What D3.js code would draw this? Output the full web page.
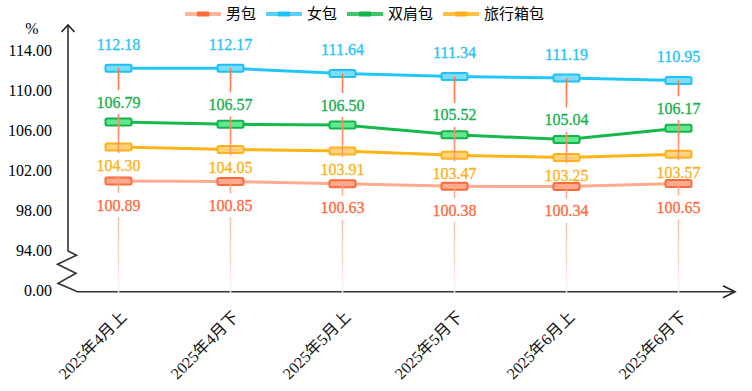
<!DOCTYPE html>
<html><head><meta charset="utf-8">
<script src="https://cdn.jsdelivr.net/npm/d3@7/dist/d3.min.js"></script>
<style>body{margin:0;background:#fff}svg{display:block}
.serif{font-family:'Liberation Serif','Tinos','Noto Serif','FreeSerif','DejaVu Serif','Times New Roman',serif}
.xl{font-family:'Liberation Serif','Tinos','Noto Serif','FreeSerif','DejaVu Serif','Noto Sans CJK SC',serif}
.cjk{font-family:'Noto Sans CJK SC',sans-serif}
</style>
</head><body><svg id="c" width="752" height="391"></svg>
<script>
const categories = ["2025年4月上","2025年4月下","2025年5月上","2025年5月下","2025年6月上","2025年6月下"];
const seriesNames = ["男包","女包","双肩包","旅行箱包"];
const menBag = [100.89,100.85,100.63,100.38,100.34,100.65];
const womenBag = [112.18,112.17,111.64,111.34,111.19,110.95];
const backpack = [106.79,106.57,106.50,105.52,105.04,106.17];
const luggage = [104.30,104.05,103.91,103.47,103.25,103.57];
const yTickValues = [0,94,98,102,106,110,114];
const yUnit = "%";

const styles = [
  {name:seriesNames[0], data:menBag, line:"#ffab90", fill:"#ffab8f", stroke:"#ff6a3b", label:"#fc6a3a", off:24, legLine:"#ffb59c"},
  {name:seriesNames[1], data:womenBag, line:"#22c6f6", fill:"#80dbf7", stroke:"#1ec3f6", label:"#22c3f4", off:-24, legLine:"#55d2f7"},
  {name:seriesNames[2], data:backpack, line:"#15b84b", fill:"#62e890", stroke:"#12b548", label:"#17ae4a", off:-20, legLine:"#3cc86a"},
  {name:seriesNames[3], data:luggage, line:"#fdb515", fill:"#ffd27c", stroke:"#ffb11a", label:"#fdb014", off:18, legLine:"#fec040"}
];

const svg = d3.select("#c");
const axisY = 291.7, axisX = 68;
const x = d3.scalePoint().domain(categories).range([118.5, 678.5]);
const y = d3.scaleLinear().domain([0,94,114]).range([290,250,50]);

const defs = svg.append("defs");
const topY = y(d3.max(womenBag));
const grad = defs.append("linearGradient").attr("id","vg").attr("gradientUnits","userSpaceOnUse")
  .attr("x1",0).attr("x2",0).attr("y1",topY).attr("y2",axisY);
grad.append("stop").attr("offset",0).attr("stop-color","#ff6f3c");
grad.append("stop").attr("offset",0.45).attr("stop-color","#ff9c7c");
grad.append("stop").attr("offset",0.75).attr("stop-color","#ffc9ba");
grad.append("stop").attr("offset",1).attr("stop-color","#fff4f0");

const yAxis = d3.axisLeft(y).tickValues(yTickValues).tickSize(0).tickPadding(0).tickFormat(d3.format(".2f"));
const ga = svg.append("g").attr("transform","translate(52,0)").call(yAxis);
ga.attr("font-family",null).attr("font-size",null);
ga.select(".domain").remove();
ga.selectAll("text").attr("class","serif").style("font-size","16px").attr("fill","#000");
svg.append("text").attr("class","serif").attr("x",32).attr("y",28).attr("dy","0.35em").attr("text-anchor","middle")
  .style("font-size","16px").text(yUnit);

const brk = y(94);
svg.append("path").attr("fill","none").attr("stroke","#333").attr("stroke-width",1.6)
  .attr("d",`M${axisX},${26} L${axisX},${brk+1} L${axisX+8.5},${brk+5.3} L${axisX-10.5},${brk+14.3} L${axisX+8},${brk+23.3} L${axisX-10},${brk+33.3} L${axisX+9.5},${axisY} L735,${axisY}`);
svg.append("path").attr("fill","none").attr("stroke","#222").attr("stroke-width",1.6)
  .attr("d",`M${axisX-6.5},${32} L${axisX},${25} L${axisX+6.5},${32}`);
svg.append("path").attr("fill","none").attr("stroke","#222").attr("stroke-width",1.6)
  .attr("d",`M723,${axisY-6} L735,${axisY} L723,${axisY+6}`);

svg.append("g").selectAll("text").data(categories).join("text")
  .attr("class","xl")
  .attr("transform",d=>`translate(${x(d)+5},${314}) rotate(-45)`)
  .attr("text-anchor","end").attr("dy","0.35em")
  .style("font-size","16px").attr("fill","#111")
  .text(d=>d);

const line = d3.line().x((d,i)=>x(categories[i])).y(d=>y(d));
const drawOrder = [0,3,2,1];
drawOrder.forEach(k=>{
  const s = styles[k];
  svg.append("path").datum(s.data).attr("fill","none").attr("stroke",s.line).attr("stroke-width",3).attr("d",line);
});
drawOrder.forEach(k=>{
  const s = styles[k];
  svg.append("g").selectAll("rect").data(s.data).join("rect")
    .attr("x",(d,i)=>x(categories[i])-13).attr("y",d=>y(d)-3.5).attr("width",26).attr("height",7)
    .attr("rx",1.5).attr("fill",s.fill).attr("stroke",s.stroke).attr("stroke-width",2);
});

categories.forEach((c,i)=>{
  const cx = x(c);
  const cuts = styles.map(s=>y(s.data[i])+s.off).sort((a,b)=>a-b);
  let start = y(womenBag[i]);
  const segs = [];
  cuts.forEach(cy=>{
    const a = cy-12, b = cy+12;
    if (a>start) segs.push([start,a]);
    start = Math.max(start,b);
  });
  segs.push([start,axisY+0.8]);
  segs.forEach(([a,b])=>{
    svg.append("line").attr("x1",cx).attr("x2",cx).attr("y1",a).attr("y2",b)
      .attr("stroke","url(#vg)").attr("stroke-width",1.6);
  });
});

styles.forEach(s=>{
  svg.append("g").selectAll("text").data(s.data).join("text")
    .attr("class","serif")
    .attr("x",(d,i)=>x(categories[i])).attr("y",d=>y(d)+s.off).attr("dy","0.35em")
    .attr("text-anchor","middle").style("font-size","16px")
    .attr("fill",s.label).attr("stroke",s.label).attr("stroke-width",0.3).text(d=>d3.format(".2f")(d));
});

const legX = [185,266,347,443];
styles.forEach((s,k)=>{
  const g = svg.append("g").attr("transform",`translate(${legX[k]},14)`);
  g.append("line").attr("x1",0).attr("x2",36).attr("y1",0).attr("y2",0).attr("stroke",s.legLine).attr("stroke-width",4);
  g.append("rect").attr("x",12).attr("y",-2.5).attr("width",12).attr("height",5).attr("fill",s.stroke);
  g.append("text").attr("class","cjk").attr("x",41).attr("y",0).attr("dy","0.35em")
    .style("font-size","15px").attr("fill","#000").text(s.name);
});
</script></body></html>
